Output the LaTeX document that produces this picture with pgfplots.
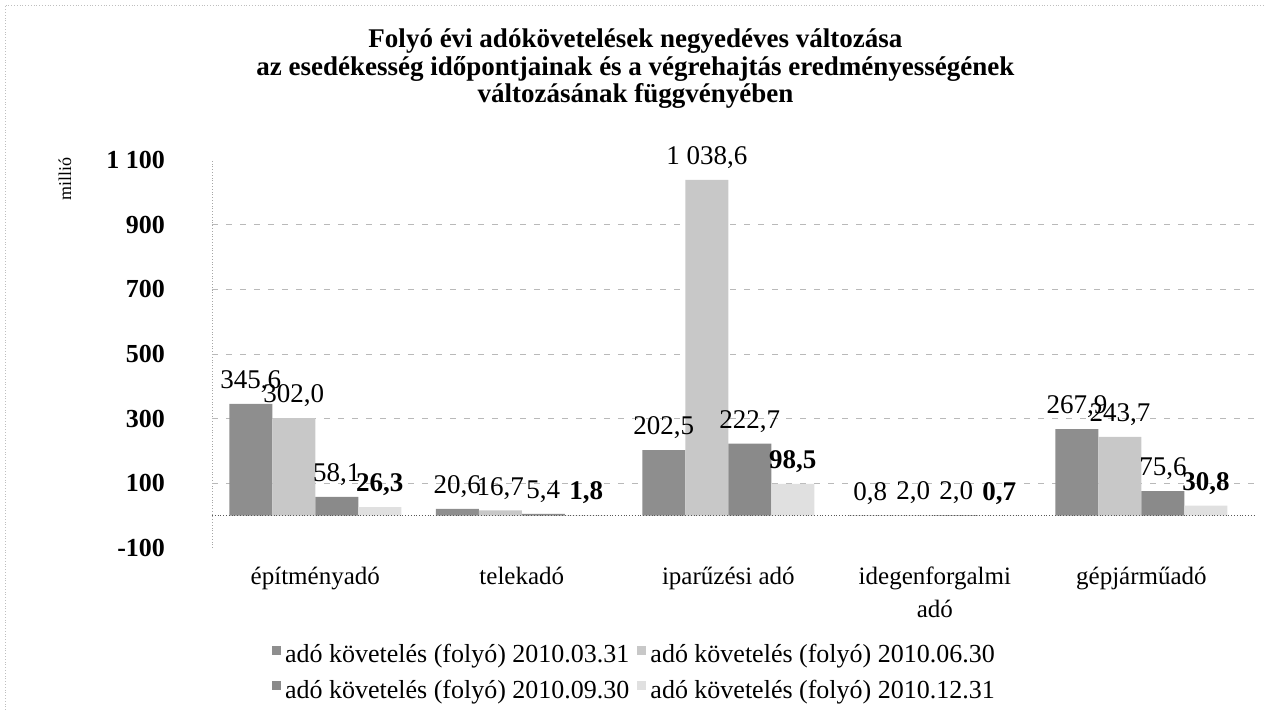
\documentclass[border=0pt]{standalone}
\usepackage{fontspec}
\setmainfont{Liberation Serif}
\usepackage{pgfplots}
\pgfplotsset{compat=1.18}
\definecolor{sA}{HTML}{8E8E8E}
\definecolor{sB}{HTML}{C8C8C8}
\definecolor{sC}{HTML}{8A8A8A}
\definecolor{sD}{HTML}{E0E0E0}
\begin{document}
\begin{tikzpicture}
\path[use as bounding box] (-106pt,-81pt) rectangle (526.5pt,274pt);
\draw[gray!50, densely dotted] (-103.5pt,-81pt) -- (-103.5pt,271.5pt) -- (526.5pt,271.5pt);
\begin{axis}[
  at={(0,0)}, anchor=south west,
  scale only axis, width=521.5pt, height=194pt,
  xmin=-0.5, xmax=4.55, ymin=-100, ymax=1100,
  xtick={0,1,2,3,4},
  xticklabels={építményadó, telekadó, iparűzési adó, {idegenforgalmi\\adó}, gépjárműadó},
  ytick={-100,100,300,500,700,900,1100},
  yticklabels={-100,100,300,500,700,900,1\ 100},
  extra y ticks={100,300,500,700,900},
  extra y tick labels={},
  extra y tick style={grid=major, major grid style={gray!55, dash pattern=on 3pt off 4pt}},
  major tick length=0pt,
  axis x line*=bottom, axis y line*=left,
  x axis line style={draw=none},
  y axis line style={draw=gray!70, densely dotted, -},
  x tick label style={yshift=-6pt, align=center, font=\fontsize{12.5}{16.5}\selectfont},
  y tick label style={xshift=-20pt, font=\fontsize{13}{15}\selectfont\bfseries},
  ylabel={millió},
  ylabel style={at={(axis description cs:-0.141,0.95)}, anchor=center, font=\fontsize{9}{10}\selectfont},
  title={Folyó évi adókövetelések negyedéves változása\\az esedékesség időpontjainak és a végrehajtás eredményességének\\változásának függvényében},
  title style={at={(axis description cs:0.406,1)}, anchor=south, yshift=16pt, align=center, font=\fontsize{13.5}{13.8}\selectfont\bfseries},
  legend style={at={(axis description cs:0.406,-0.227)}, anchor=north, draw=none, fill=none,
    legend columns=2, font=\fontsize{13}{15}\selectfont,
    /tikz/every even column/.append style={column sep=2pt}, row sep=3pt},
  legend image code/.code={\fill[#1, draw=none] (0pt,0pt) rectangle (4.5pt,4.5pt);},
  /pgf/number format/.cd, use comma, fixed, fixed zerofill, precision=1, 1000 sep={\ }, assume math mode=true,
]
\addplot[ybar, bar width=21.5pt, bar shift=-32.25pt, fill=sA, draw=none,
  nodes near coords, nodes near coords style={font=\fontsize{13.5}{15}\selectfont, xshift=-32.25pt, yshift=2pt, text=black}]
  coordinates {(0,345.6) (1,20.6) (2,202.5) (3,0.8) (4,267.9)};
\addlegendentry{adó követelés (folyó) 2010.03.31}
\addplot[ybar, bar width=21.5pt, bar shift=-10.75pt, fill=sB, draw=none,
  nodes near coords, nodes near coords style={font=\fontsize{13.5}{15}\selectfont, xshift=-10.75pt, yshift=2pt, text=black}]
  coordinates {(0,302.0) (1,16.7) (2,1038.6) (3,2.0) (4,243.7)};
\addlegendentry{adó követelés (folyó) 2010.06.30}
\addplot[ybar, bar width=21.5pt, bar shift=10.75pt, fill=sC, draw=none,
  nodes near coords, nodes near coords style={font=\fontsize{13.5}{15}\selectfont, xshift=10.75pt, yshift=2pt, text=black}]
  coordinates {(0,58.1) (1,5.4) (2,222.7) (3,2.0) (4,75.6)};
\addlegendentry{adó követelés (folyó) 2010.09.30}
\addplot[ybar, bar width=21.5pt, bar shift=32.25pt, fill=sD, draw=none,
  nodes near coords, nodes near coords style={font=\fontsize{13.5}{15}\selectfont\bfseries, xshift=32.25pt, yshift=2pt, text=black}]
  coordinates {(0,26.3) (1,1.8) (2,98.5) (3,0.7) (4,30.8)};
\addlegendentry{adó követelés (folyó) 2010.12.31}
\addplot[sharp plot, mark=none, draw=gray!70!black, densely dotted, forget plot]
  coordinates {(-0.5,0) (4.55,0)};
\end{axis}
\end{tikzpicture}
\end{document}
